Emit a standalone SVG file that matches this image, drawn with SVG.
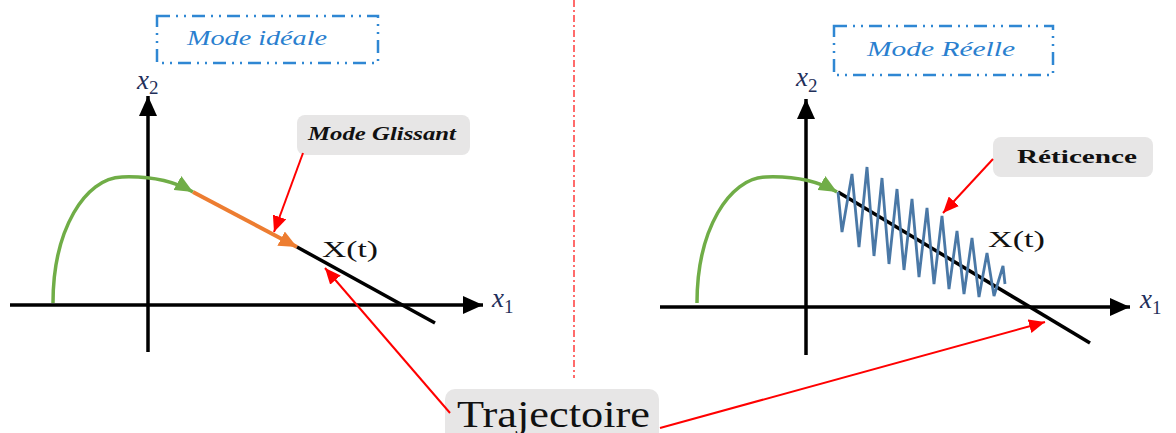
<svg xmlns="http://www.w3.org/2000/svg" width="1176" height="433" viewBox="0 0 1176 433">
<style>
.axis{stroke:#000;stroke-width:3.5;fill:none}
.traj{stroke:#000;stroke-width:3.5;fill:none}
.green{stroke:#70ad47;stroke-width:3.5;fill:none}
.orange{stroke:#ed7d31;stroke-width:4;fill:none}
.red{stroke:#ff0000;stroke-width:2;fill:none}
.mode{fill:#fff;stroke:#2f87d3;stroke-width:2.5;stroke-dasharray:13 6 2 6 2 6}
.modet{font-family:"Liberation Serif",serif;font-style:italic;font-size:20px;fill:#2a7fcf}
.callout{fill:#e7e6e6}
.var{font-family:"Liberation Serif",serif;font-style:italic;fill:#1f2f5a}
.sub{font-style:normal;font-size:19px}
.xt{font-family:"Liberation Serif",serif;font-size:23px;fill:#111}
</style>
<defs>
<marker id="ah-black" markerUnits="userSpaceOnUse" markerWidth="22" markerHeight="18" refX="20" refY="9" orient="auto"><path d="M0,0 L20,9 L0,18 Z" fill="#000"/></marker>
<marker id="ah-green" markerUnits="userSpaceOnUse" markerWidth="20" markerHeight="16" refX="18" refY="8" orient="auto"><path d="M0,0 L18,8 L0,16 Z" fill="#70ad47"/></marker>
<marker id="ah-orange" markerUnits="userSpaceOnUse" markerWidth="20" markerHeight="16" refX="18" refY="8" orient="auto"><path d="M0,0 L18,8 L0,16 Z" fill="#ed7d31"/></marker>
<marker id="ah-red" markerUnits="userSpaceOnUse" markerWidth="18" markerHeight="14" refX="16" refY="7" orient="auto"><path d="M0,0 L16,7 L0,14 Z" fill="#ff0000"/></marker>
</defs>

<rect width="1176" height="433" fill="#fff"/>

<line x1="574" y1="0" x2="574" y2="378" stroke="#ff3b3b" stroke-width="1.5" stroke-dasharray="7 3 2 3"/>

<g id="left-plot">
<line class="axis" x1="148" y1="352" x2="148" y2="96" marker-end="url(#ah-black)"/>
<line class="axis" x1="10" y1="305" x2="483" y2="305" marker-end="url(#ah-black)"/>
<text class="var" x="137" y="89" font-size="27">x<tspan class="sub" dx="0" dy="5">2</tspan></text>
<text class="var" x="492" y="307" font-size="27">x<tspan class="sub" dx="0" dy="6">1</tspan></text>
<path class="green" d="M53,303 C53,230 85,178 122,177 C150,176 172,180 193,192" marker-end="url(#ah-green)"/>
<line class="orange" x1="193" y1="192" x2="297" y2="247" marker-end="url(#ah-orange)"/>
<line class="traj" x1="297" y1="247" x2="435" y2="323"/>
<text class="xt" x="322" y="257" textLength="56" lengthAdjust="spacingAndGlyphs">X(t)</text>
</g>

<g id="right-plot">
<line class="axis" x1="806" y1="355" x2="806" y2="99" marker-end="url(#ah-black)"/>
<line class="axis" x1="660" y1="307" x2="1130" y2="307" marker-end="url(#ah-black)"/>
<text class="var" x="796" y="86" font-size="27">x<tspan class="sub" dx="0" dy="6">2</tspan></text>
<text class="var" x="1140" y="308" font-size="27">x<tspan class="sub" dx="0" dy="6">1</tspan></text>
<path class="green" d="M697,303 C697,230 729,178 766,177 C794,176 816,180 837,192" marker-end="url(#ah-green)"/>
<line class="traj" x1="838" y1="192" x2="1090" y2="343"/>
<polyline fill="none" stroke="#4a78a6" stroke-width="2.8" stroke-linejoin="miter" points="838,192 842,232 852,174 859,247 867,167 874,256 882,178 889,264 897,189 904,270 912,199 919,277 927,208 934,284 942,216 949,289 957,231 964,294 972,238 979,297 987,253 994,296 1003,266 1005,284"/>
<text class="xt" x="988" y="247" textLength="57" lengthAdjust="spacingAndGlyphs">X(t)</text>
</g>

<g id="mode-ideale">
<rect class="mode" x="157" y="16" width="221" height="47"/>
<text class="modet" x="187" y="45" textLength="140" lengthAdjust="spacingAndGlyphs">Mode idéale</text>
</g>

<g id="mode-reelle">
<rect class="mode" x="834" y="26" width="219" height="49"/>
<text class="modet" x="867" y="56" textLength="148" lengthAdjust="spacingAndGlyphs">Mode Réelle</text>
</g>

<g id="mode-glissant">
<rect class="callout" x="297" y="115" width="173" height="40" rx="8"/>
<text x="308" y="140" font-family="'Liberation Serif',serif" font-style="italic" font-weight="bold" font-size="18" fill="#111" textLength="148" lengthAdjust="spacingAndGlyphs">Mode Glissant</text>
</g>

<g id="reticence">
<rect class="callout" x="993" y="137" width="160" height="40" rx="8"/>
<text x="1017" y="163" font-family="'Liberation Serif',serif" font-weight="bold" font-size="18" fill="#111" textLength="120" lengthAdjust="spacingAndGlyphs">Réticence</text>
</g>

<g id="trajectoire">
<rect class="callout" x="445" y="389" width="214" height="60" rx="10"/>
<text x="457" y="427" font-family="'Liberation Serif',serif" font-size="38" fill="#111" textLength="193" lengthAdjust="spacingAndGlyphs">Trajectoire</text>
</g>

<g id="connectors">
<line class="red" x1="303" y1="153" x2="274" y2="232" marker-end="url(#ah-red)"/>
<line class="red" x1="450" y1="413" x2="325" y2="268" marker-end="url(#ah-red)"/>
<line class="red" x1="660" y1="428" x2="1045" y2="322" marker-end="url(#ah-red)"/>
<line class="red" x1="993" y1="159" x2="943" y2="213" marker-end="url(#ah-red)"/>
</g>
</svg>
